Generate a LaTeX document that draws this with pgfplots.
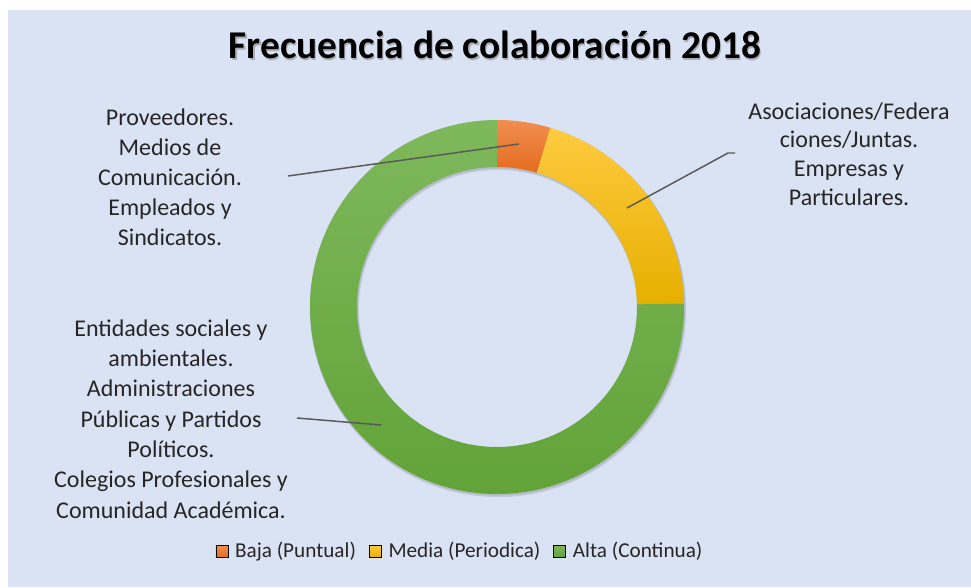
\documentclass[border=0pt]{standalone}
\usepackage{pgfplots}
\pgfplotsset{compat=1.18}
\usepackage{pgfplotstable}
\usepackage{fontspec}
\setmainfont{Carlito}
\usetikzlibrary{calc}

\definecolor{bg}{RGB}{218,227,243}
\definecolor{orTop}{RGB}{241,142,80}
\definecolor{orBot}{RGB}{228,108,30}
\definecolor{yeTop}{RGB}{255,202,62}
\definecolor{yeBot}{RGB}{229,176,0}
\definecolor{grTop}{RGB}{126,184,92}
\definecolor{grBot}{RGB}{98,163,56}
\definecolor{lead}{RGB}{89,89,89}

\pgfplotstableread{
cat value
Baja 4.6
Media 20.1
Alta 75.3
}\freqtable

\newcommand{\slice}[4]{%
  \path[top color=#3, bottom color=#4]
    ($(axis cs:497,280)+(#1:140.25pt)$) arc[start angle=#1, end angle=#2, radius=140.25pt]
    -- ($(axis cs:497,280)+(#2:105pt)$) arc[start angle=#2, end angle=#1, radius=105pt] -- cycle;}

\begin{document}
\begin{tikzpicture}
\pgfplotstablegetelem{0}{value}\of\freqtable \pgfmathsetmacro{\va}{\pgfplotsretval}
\pgfplotstablegetelem{1}{value}\of\freqtable \pgfmathsetmacro{\vb}{\pgfplotsretval}
\pgfplotstablegetelem{2}{value}\of\freqtable \pgfmathsetmacro{\vc}{\pgfplotsretval}
\pgfmathsetmacro{\tot}{\va+\vb+\vc}
\pgfmathsetmacro{\aA}{90}
\pgfmathsetmacro{\aB}{90-360*(\va/\tot)}
\pgfmathsetmacro{\aC}{\aB-360*(\vb/\tot)}
\pgfmathsetmacro{\aD}{\aC-360*(\vc/\tot)}
\begin{axis}[
  hide axis, scale only axis, width=728.25pt, height=440.25pt,
  xmin=0, xmax=971, ymin=0, ymax=587, clip=false,
  legend columns=3,
  legend image code/.code={\path[#1] (0pt,-4.5pt) rectangle (9pt,4.5pt);},
  legend style={at={(axis cs:459,36)}, anchor=center, draw=none, fill=none,
    font=\fontsize{15.9}{19}\selectfont, text=black!85,
    nodes={inner sep=0pt},
    /tikz/column sep=5.25pt,
    /tikz/every even column/.append style={column sep=9.75pt}},
]
\fill[white] (axis cs:0,0) rectangle (axis cs:971,587);
\fill[bg] (axis cs:8,0) rectangle (axis cs:971,577);

% soft shadow of the ring
\fill[black, opacity=0.10, even odd rule] ($(axis cs:497,280)+(0.8pt,-1.6pt)$) circle[radius=141pt] ($(axis cs:497,280)+(0.8pt,-1.6pt)$) circle[radius=104.4pt];
\fill[black, opacity=0.08, even odd rule] ($(axis cs:497,280)+(0.4pt,-0.8pt)$) circle[radius=140.8pt] ($(axis cs:497,280)+(0.4pt,-0.8pt)$) circle[radius=104.6pt];

\slice{\aA}{\aB}{orTop}{orBot}
\slice{\aB}{\aC}{yeTop}{yeBot}
\slice{\aC}{\aD}{grTop}{grBot}

\addlegendimage{top color=orTop, bottom color=orBot}
\addlegendentry{Baja (Puntual)}
\addlegendimage{top color=yeTop, bottom color=yeBot}
\addlegendentry{Media (Periodica)}
\addlegendimage{top color=grTop, bottom color=grBot}
\addlegendentry{Alta (Continua)}

% leader lines
\draw[lead, line width=1.1pt] (axis cs:288,411) -- (axis cs:519,443);
\draw[lead, line width=1.1pt] (axis cs:735,434) -- (axis cs:728,434) -- (axis cs:627,379);
\draw[lead, line width=1.1pt] (axis cs:297,169) -- (axis cs:381,162);

% title with shadow
\node[font=\bfseries\fontsize{29.5}{35}\selectfont, text=black!45, opacity=0.6, anchor=base] at ($(axis cs:495,528)+(0.9pt,-1.2pt)$) {Frecuencia de colaboración 2018};
\node[font=\bfseries\fontsize{29.5}{35}\selectfont, text=black, anchor=base] at (axis cs:495,528) {Frecuencia de colaboración 2018};

% data labels
\node[align=center, font=\fontsize{18}{22.5}\selectfont, text=black!85] at (axis cs:170,410) {Proveedores.\\Medios de\\Comunicación.\\Empleados y\\Sindicatos.};
\node[align=center, font=\fontsize{18}{21.4}\selectfont, text=black!85] at (axis cs:849,433) {Asociaciones/Federa\\ciones/Juntas.\\Empresas y\\Particulares.};
\node[align=center, font=\fontsize{18}{22.7}\selectfont, text=black!85] at (axis cs:171,168) {Entidades sociales y\\ambientales.\\Administraciones\\Públicas y Partidos\\Políticos.\\Colegios Profesionales y\\Comunidad Académica.};
\end{axis}
\end{tikzpicture}
\end{document}
